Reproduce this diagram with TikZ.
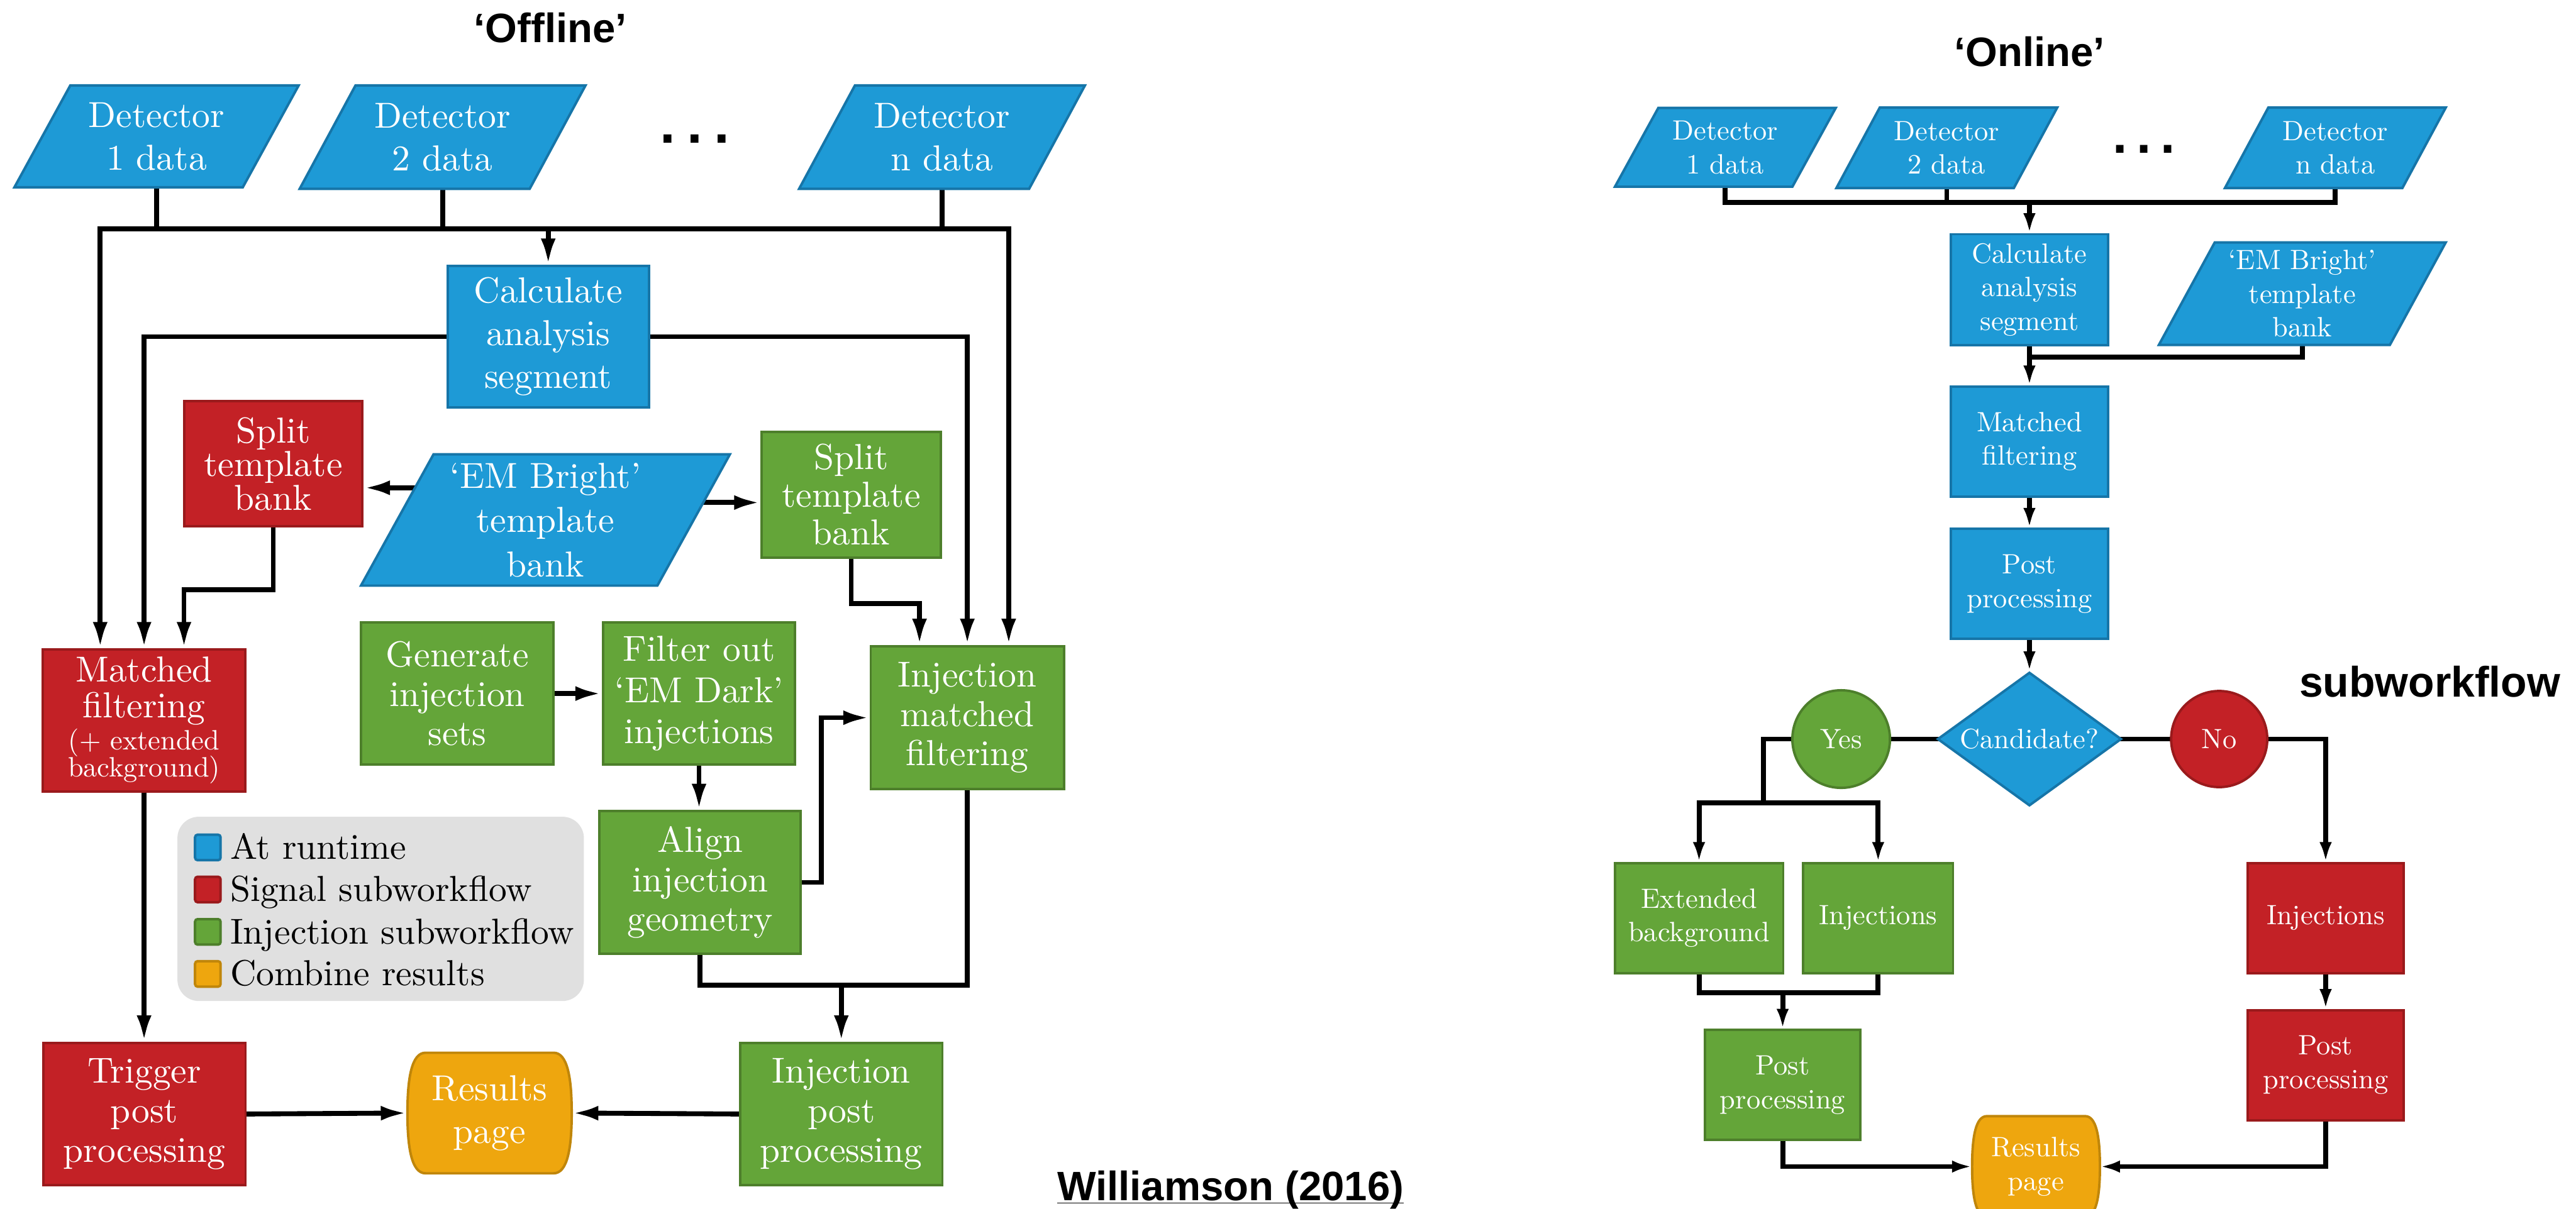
\documentclass[tikz,border=0pt]{standalone}
\usepackage{fontspec}
\setmainfont{lmroman10-regular}[Extension=.otf, BoldFont=lmroman10-bold, ItalicFont=lmroman10-italic, BoldItalicFont=lmroman10-bolditalic]
\newfontfamily\headfont{Liberation Sans}
\usetikzlibrary{shapes.geometric,arrows.meta,calc}
\pgfdeclarelayer{bg}
\pgfsetlayers{bg,main}
\definecolor{cblue}{HTML}{1E9AD6}
\definecolor{cblueD}{HTML}{1675A8}
\definecolor{cred}{HTML}{C32126}
\definecolor{credD}{HTML}{9A1A1C}
\definecolor{cgreen}{HTML}{64A539}
\definecolor{cgreenD}{HTML}{4D7F2B}
\definecolor{corange}{HTML}{EEA60E}
\definecolor{corangeD}{HTML}{C0860A}
\definecolor{cgray}{HTML}{E0E0E0}
\tikzset{
 box/.style={rectangle, line width=1.5pt, text=white, align=center, inner sep=0pt},
 bl/.style={box, fill=cblue, draw=cblueD},
 rd/.style={box, fill=cred, draw=credD},
 gr/.style={box, fill=cgreen, draw=cgreenD},
 Lf/.style={font=\fontsize{22}{24}\selectfont},
 Rf/.style={font=\fontsize{17}{20.5}\selectfont},
 parabody/.style={rectangle, draw=none, fill=none, text=white, align=center, inner sep=0pt},
 wire/.style={line width=3pt, line cap=rect, line join=miter, draw=black},
 arrL/.style={wire, -{Latex[length=16pt,width=9pt]}},
 arrR/.style={wire, -{Latex[length=12pt,width=7.5pt]}},
 head/.style={font=\headfont\bfseries\fontsize{25}{30}\selectfont, inner sep=0pt},
 lgsq/.style={rectangle, line width=1.5pt, minimum size=15.5pt, inner sep=0pt, rounded corners=1.5pt},
 lgtxt/.style={anchor=base west, inner sep=0pt, font=\fontsize{22}{24}\selectfont},
}
% #1 name #2 cx #3 cy #4 half width #5 half height #6 half shift #7 node options #8 text
\newcommand\paral[8]{%
 \filldraw[fill=cblue, draw=cblueD, line width=1.5pt, line join=miter]
  ({#2-#4+#6},{#3-#5}) -- ({#2+#4+#6},{#3-#5}) -- ({#2+#4-#6},{#3+#5}) -- ({#2-#4-#6},{#3+#5}) -- cycle;
 \node[parabody, #7, minimum width={2*#4}, minimum height={2*#5}] (#1) at (#2,#3) {#8};}
% #1 name #2 cx #3 cy #4 hw #5 hh #6 inset #7 text #8 options
\newcommand\barrel[8]{%
 \filldraw[fill=corange, draw=corangeD, line width=1.5pt]
  ({#2-#4+#6},{#3-#5}) -- ({#2+#4-#6},{#3-#5})
  .. controls ({#2+#4-0.25*#6},{#3-#5}) and ({#2+#4},{#3-0.6*#5}) .. ({#2+#4},{#3})
  .. controls ({#2+#4},{#3+0.6*#5}) and ({#2+#4-0.25*#6},{#3+#5}) .. ({#2+#4-#6},{#3+#5})
  -- ({#2-#4+#6},{#3+#5})
  .. controls ({#2-#4+0.25*#6},{#3+#5}) and ({#2-#4},{#3+0.6*#5}) .. ({#2-#4},{#3})
  .. controls ({#2-#4},{#3-0.6*#5}) and ({#2-#4+0.25*#6},{#3-#5}) .. ({#2-#4+#6},{#3-#5}) -- cycle;
 \node[parabody, #8, minimum width={2*#4}, minimum height={2*#5}] (#1) at (#2,#3) {#7};}
\begin{document}
\begin{tikzpicture}[x=1pt,y=-1pt]
\useasboundingbox (0,0) rectangle (1568,736);

% ---------------- titles ----------------
\node[head, anchor=base] (tOff) at (335,25.7) {‘Offline’};
\node[head, anchor=base] (tOn) at (1235.3,40.5) {‘Online’};
\node[head, anchor=base, font=\headfont\bfseries\fontsize{26}{30}\selectfont] (tSub) at (1479,424.5) {subworkflow};
\node[head, anchor=base] (tWil) at (749,731) {\underline{\smash{Williamson (2016)}}};

% ---------------- LEFT: offline ----------------
\paral{det1}{95.3}{83}{69.5}{31}{17}{font=\fontsize{22}{26}\selectfont}{Detector\\1 data}
\paral{det2}{269.4}{83.5}{70}{31.5}{17}{font=\fontsize{22}{26}\selectfont}{Detector\\2 data}
\paral{detn}{573.4}{83.5}{70}{31.5}{17}{font=\fontsize{22}{26}\selectfont}{Detector\\n data}
\node[anchor=base, inner sep=0pt, font=\headfont\bfseries\fontsize{34}{34}\selectfont] (dotsL) at (422.9,87.2) {.\kern6.9pt.\kern6.9pt.};

\node[bl, font=\fontsize{22}{26}\selectfont, minimum width=122.6pt, minimum height=86pt] (calcL) at (333.7,205) {Calculate\\analysis\\segment};
\node[rd, font=\fontsize{22}{20.5}\selectfont, minimum width=108.6pt, minimum height=76.2pt] (splitR) at (166.3,282.4) {Split\\template\\bank};
\paral{emL}{332}{316.6}{90.2}{40}{22.1}{font=\fontsize{22}{27}\selectfont}{‘EM Bright’\\template\\bank}
\node[gr, font=\fontsize{22}{23}\selectfont, minimum width=109pt, minimum height=76.4pt] (splitG) at (518.1,301.2) {Split\\template\\bank};

\node[rd, font=\fontsize{22}{21.5}\selectfont, minimum width=123.3pt, minimum height=86.5pt] (mfL) at (87.7,438.7) {Matched\\filtering\\[-2pt]{\fontsize{17}{17}\selectfont(+ extended}\\[-4.7pt]{\fontsize{17}{17}\selectfont background)}};
\node[gr, Lf, minimum width=117.3pt, minimum height=86.6pt] (gen) at (278.3,422.3) {Generate\\injection\\sets};
\node[gr, Lf, font=\fontsize{22}{25}\selectfont, minimum width=117pt, minimum height=86.6pt] (filt) at (425.5,422.3) {Filter out\\‘EM Dark’\\injections};
\node[gr, Lf, minimum width=117.6pt, minimum height=87pt] (injmf) at (588.8,437) {Injection\\matched\\filtering};
\node[gr, Lf, minimum width=122.5pt, minimum height=86.7pt] (align) at (426.2,537.3) {Align\\injection\\geometry};
\node[gr, Lf, minimum width=123.1pt, minimum height=86.6pt] (injpp) at (512.1,678.3) {Injection\\post\\processing};
\node[rd, Lf, minimum width=123.2pt, minimum height=86.6pt] (trig) at (87.9,678.3) {Trigger\\post\\processing};
\barrel{resL}{298}{677.7}{50}{36.7}{11}{Results\\page}{font=\fontsize{22}{26}\selectfont}

% legend
\node[fill=cgray, rounded corners=13pt, minimum width=247.4pt, minimum height=112.2pt, inner sep=0pt] (legend) at (231.7,553.4) {};
\node[lgsq, fill=cblue, draw=cblueD] (lg1) at (126.5,516) {};
\node[lgsq, fill=cred, draw=credD] (lg2) at (126.5,541.6) {};
\node[lgsq, fill=cgreen, draw=cgreenD] (lg3) at (126.5,567.4) {};
\node[lgsq, fill=corange, draw=corangeD] (lg4) at (126.5,593) {};
\node[lgtxt] (lt1) at (140,523.2) {At runtime};
\node[lgtxt] (lt2) at (140,548.8) {Signal subworkflow};
\node[lgtxt] (lt3) at (140,574.6) {Injection subworkflow};
\node[lgtxt] (lt4) at (140,600.2) {Combine results};

% ---------------- RIGHT: online ----------------
\paral{det1R}{1050.2}{89.7}{54}{24}{13.2}{Rf}{Detector\\1 data}
\paral{det2R}{1185}{90}{54}{24.5}{13.2}{Rf}{Detector\\2 data}
\paral{detnR}{1421.5}{90}{54}{24.5}{13.2}{Rf}{Detector\\n data}
\node[anchor=base, inner sep=0pt, font=\headfont\bfseries\fontsize{32}{32}\selectfont] (dotsR) at (1305,93.4) {.\kern5.7pt.\kern5.7pt.};

\node[bl, Rf, minimum width=96pt, minimum height=67.4pt] (calcR) at (1235.3,176.3) {Calculate\\analysis\\segment};
\paral{emR}{1401.4}{178.8}{70.3}{31.2}{17}{Rf}{‘EM Bright’\\template\\bank}
\node[bl, Rf, minimum width=96pt, minimum height=67pt] (mfR) at (1235.3,268.8) {Matched\\filtering};
\node[bl, Rf, minimum width=96pt, minimum height=67pt] (ppR) at (1235.3,355.5) {Post\\processing};
\node[diamond, shape aspect=1.38, fill=cblue, draw=cblueD, line width=1.5pt, minimum width=112pt, minimum height=81.3pt, inner sep=0pt, text=white, Rf] (cand) at (1235.3,450) {Candidate?};
\node[circle, fill=cgreen, draw=cgreenD, line width=1.5pt, minimum size=59.4pt, inner sep=0pt, text=white, Rf] (yes) at (1120.7,450) {Yes};
\node[circle, fill=cred, draw=credD, line width=1.5pt, minimum size=58.5pt, inner sep=0pt, text=white, Rf] (no) at (1350.8,450) {No};
\node[gr, Rf, minimum width=102.5pt, minimum height=67pt] (extbg) at (1034.2,559) {Extended\\background};
\node[gr, Rf, minimum width=91.2pt, minimum height=67pt] (injG) at (1143.2,559) {Injections};
\node[rd, Rf, minimum width=94.7pt, minimum height=67pt] (injR) at (1415.6,559) {Injections};
\node[rd, Rf, minimum width=95pt, minimum height=67pt] (ppR2) at (1415.6,648.5) {Post\\processing};
\node[gr, Rf, minimum width=94.8pt, minimum height=67.2pt] (ppG) at (1085.1,660.6) {Post\\processing};
\barrel{resR}{1239.3}{710.3}{38.9}{30.7}{9}{Results\\page}{Rf}

% ---------------- connectors ----------------
\begin{pgfonlayer}{bg}
% left
\coordinate (busL) at (61,139.3);
\coordinate (busR) at (614,139.3);
\draw[wire] (det1.south) -- (det1.south |- busL);
\draw[wire] (det2.south) -- (det2.south |- busL);
\draw[wire] (detn.south) -- (detn.south |- busL);
\draw[wire] (busL) -- (busR);
\draw[arrL] (busL) -- (busL |- mfL.north);
\draw[arrL] (busR) -- (busR |- injmf.north);
\draw[arrL] (calcL.north |- busL) -- (calcL.north);
\draw[arrL] (calcL.west) -| (mfL.north);
\draw[arrL] (calcL.east) -| (injmf.north);
\coordinate (emLa) at (252.7,297);
\coordinate (emLb) at (428.3,306);
\draw[arrL] (emLa) -- (emLa -| splitR.east);
\draw[arrL] (emLb) -- (emLb -| splitG.west);
\coordinate (k1) at (112,359);
\draw[arrL] (splitR.south) |- (k1) -- (k1 |- mfL.north);
\coordinate (k2) at (559.7,367.5);
\draw[arrL] (splitG.south) |- (k2) -- (k2 |- injmf.north);
\draw[arrL] (gen.east) -- (filt.west);
\draw[arrL] (filt.south) -- (filt.south |- align.north);
\coordinate (k3) at (500,437);
\draw[arrL] (align.east) -| (k3) -- (k3 -| injmf.west);
\coordinate (k4) at (512,600);
\draw[wire] (align.south) |- (k4 -| injmf.south) -- (injmf.south);
\draw[arrL] (k4 -| injpp.north) -- (injpp.north);
\draw[arrL] (mfL.south) -- (mfL.south |- trig.north);
\draw[arrL] (trig.east) -- (resL.west);
\draw[arrL] (injpp.west) -- (resL.east);
% right
\coordinate (busR1) at (1050.2,123.4);
\draw[wire] (det1R.south) |- (detnR.south |- busR1) -- (detnR.south);
\draw[wire] (det2R.south) -- (det2R.south |- busR1);
\draw[arrR] (calcR.north |- busR1) -- (calcR.north);
\coordinate (jR) at (1235.3,217.3);
\draw[wire] (emR.south) |- (calcR.south |- jR);
\draw[arrR] (calcR.south) -- (mfR.north);
\draw[arrR] (mfR.south) -- (ppR.north);
\draw[arrR] (ppR.south) -- (cand.north);
\draw[wire] (yes.east) -- (cand.west);
\draw[wire] (cand.east) -- (no.west);
\coordinate (ysplit) at (1073.5,488.8);
\draw[wire] (yes.west) -| (ysplit);
\draw[wire] (extbg.north |- ysplit) -- (injG.north |- ysplit);
\draw[arrR] (extbg.north |- ysplit) -- (extbg.north);
\draw[arrR] (injG.north |- ysplit) -- (injG.north);
\draw[arrR] (no.east) -| (injR.north);
\draw[arrR] (injR.south) -- (ppR2.north);
\coordinate (jG) at (1085.1,604.3);
\draw[wire] (extbg.south) |- (injG.south |- jG) -- (injG.south);
\draw[arrR] (jG -| ppG.north) -- (ppG.north);
\draw[arrR] (ppG.south) |- (resR.west);
\draw[arrR] (ppR2.south) |- (resR.east);
\end{pgfonlayer}
\end{tikzpicture}
\end{document}
